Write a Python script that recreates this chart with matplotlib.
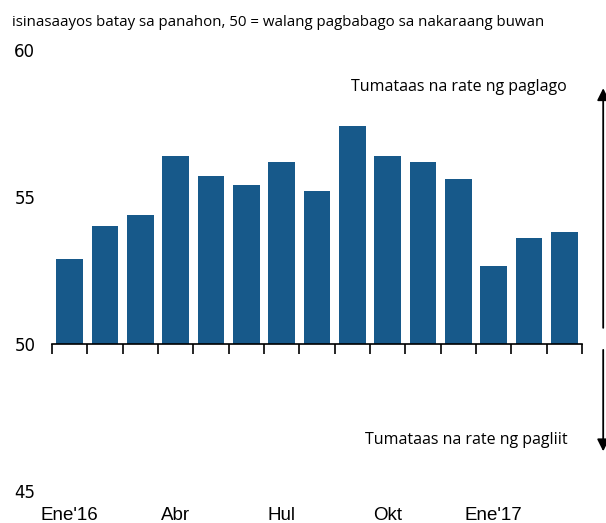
import matplotlib
matplotlib.use("Agg")
import matplotlib.pyplot as plt
import numpy as np

months = ["Ene'16", "Peb", "Mar", "Abr", "May", "Hun", "Hul", "Ago", "Set",
          "Okt", "Nob", "Dis", "Ene'17", "Peb", "Mar"]
values = [52.9, 54.0, 54.4, 56.4, 55.7, 55.4, 56.2, 55.2, 57.4,
          56.4, 56.2, 55.6, 52.65, 53.6, 53.8]
shown_labels = {0: "Ene'16", 3: "Abr", 6: "Hul", 9: "Okt", 12: "Ene'17"}
yticks = [45, 50, 55, 60]
baseline = 50

fig = plt.figure(figsize=(6.06, 5.23), dpi=100)
ax = fig.add_axes([52 / 606, 32 / 523, 530 / 606, 441 / 523])

x = np.arange(len(values))
ax.bar(x, np.array(values) - baseline, bottom=baseline, width=0.76, color="#17598a")

ax.set_xlim(-0.5, len(values) - 0.5)
ax.set_ylim(45, 60)

for s in ["top", "right", "left"]:
    ax.spines[s].set_visible(False)
ax.spines["bottom"].set_position(("data", baseline))
ax.spines["bottom"].set_linewidth(1.2)

ax.set_xticks(np.arange(-0.5, len(values)))
ax.set_xticklabels([])
ax.tick_params(axis="x", direction="out", length=7, width=1.2)

ax.set_yticks(yticks)
ax.set_yticklabels([str(t) for t in yticks], fontsize=12, family="DejaVu Sans")
ax.tick_params(axis="y", length=0, pad=12)

for i, lab in shown_labels.items():
    ax.text(i, -0.037, lab, transform=ax.get_xaxis_transform(), ha="center", va="top",
            fontsize=13.5, family="Liberation Sans")

fig.text(12 / 606, 1 - 23 / 523, "isinasaayos batay sa panahon, 50 = walang pagbabago sa nakaraang buwan",
         fontsize=10.8, family="Open Sans", va="center", ha="left")

ax.text(0.972, 58.74, "Tumataas na rate ng paglago", transform=ax.get_yaxis_transform(),
        ha="right", va="center", fontsize=11.5, family="Open Sans")
ax.text(0.972, 46.73, "Tumataas na rate ng pagliit", transform=ax.get_yaxis_transform(),
        ha="right", va="center", fontsize=11.5, family="Open Sans")

arrow = dict(arrowstyle="-|>", color="black", lw=1.3, mutation_scale=18, shrinkA=0, shrinkB=0)
ax.annotate("", xy=(1.04, 58.7), xytext=(1.04, 50.55),
            xycoords=("axes fraction", "data"), textcoords=("axes fraction", "data"),
            arrowprops=arrow)
ax.annotate("", xy=(1.04, 46.35), xytext=(1.04, 49.8),
            xycoords=("axes fraction", "data"), textcoords=("axes fraction", "data"),
            arrowprops=arrow)

fig.savefig("out.png", dpi=100)
